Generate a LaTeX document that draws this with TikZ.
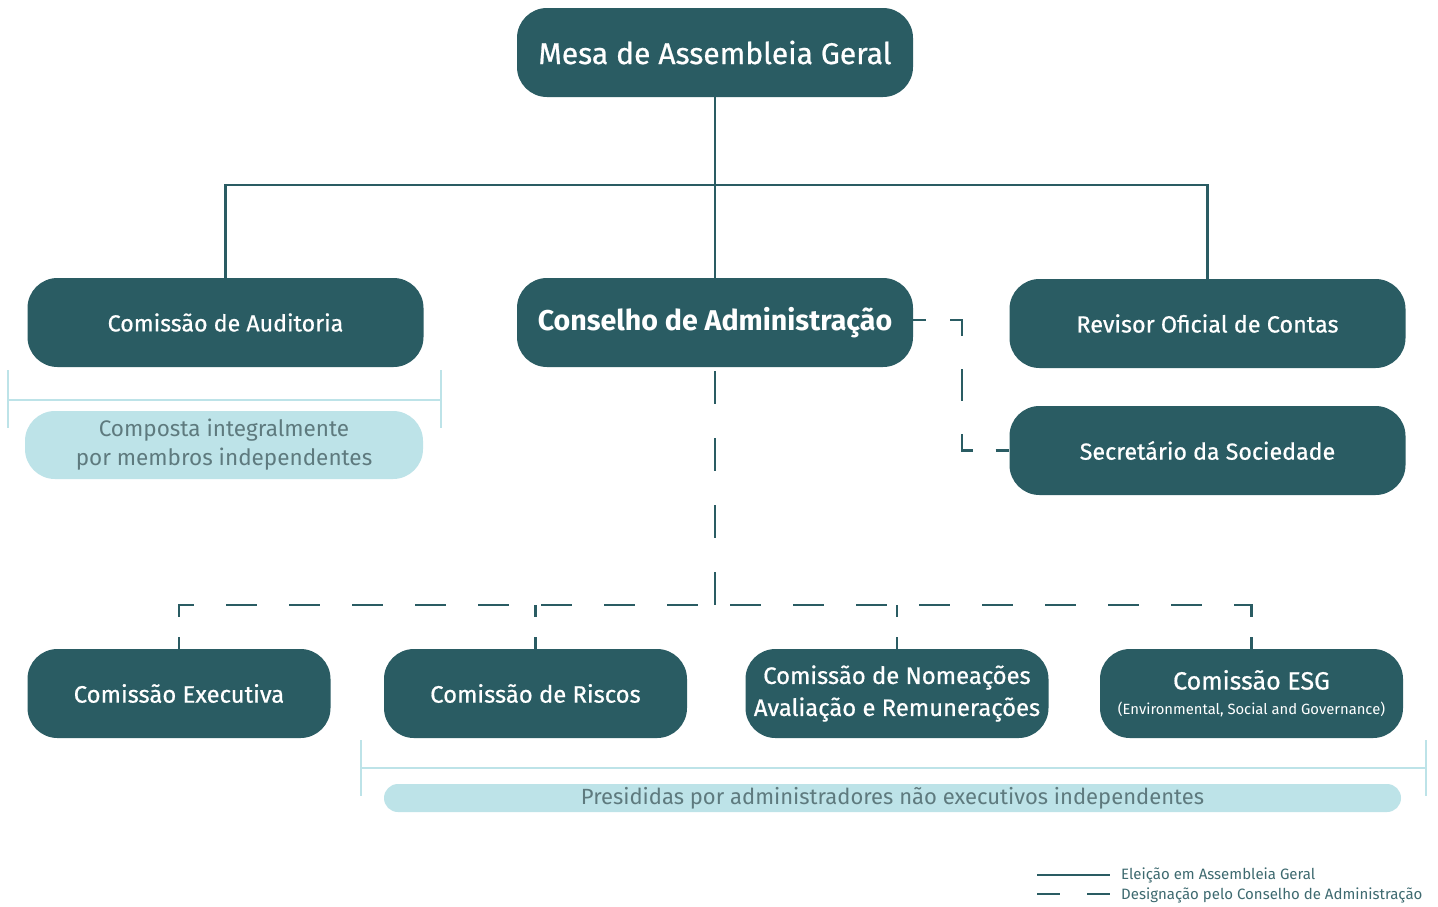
\documentclass[tikz,border=0pt]{standalone}
\usepackage{fontspec}
\setmainfont{Fira Sans}
\newfontfamily\medf{Fira Sans}[FakeBold=0.7]
\definecolor{teal1}{HTML}{2A5C63}
\definecolor{lightb}{HTML}{BDE3E8}
\definecolor{grayt}{HTML}{5E7A7E}
\definecolor{legt}{HTML}{3E6A70}
\begin{document}
\begin{tikzpicture}[x=1pt,y=-1pt,
  box/.style={fill=teal1, rounded corners=30pt, text=white, minimum height=89pt, inner sep=0pt, align=center},
  wbox/.style={box, minimum width=396pt},
  sbox/.style={box, minimum width=303pt},
  note/.style={fill=lightb, rounded corners=14pt, text=grayt, inner sep=0pt, align=center},
  conn/.style={draw=teal1, line width=2.6pt},
  dconn/.style={draw=teal1, line width=2.6pt},
  brk/.style={draw=lightb, line width=2.6pt},
  stub/.style={dconn, dash pattern=on 12pt off 20pt on 12pt off 0pt},
  legtext/.style={text=legt, anchor=west, inner sep=0pt, font=\fontsize{15}{17}\selectfont}
]
\useasboundingbox (0,0) rectangle (1438,906);
\fill[white] (0,0) rectangle (1438,906);

% nodes
\node[wbox, font=\medf\fontsize{30}{34}\selectfont] (mesa) at (715,52.5) {Mesa de Assembleia Geral};
\node[wbox, font=\medf\fontsize{23.2}{26}\selectfont] (aud) at (225.5,322.5) {Comissão de Auditoria};
\node[wbox, font=\bfseries\fontsize{28.6}{32}\selectfont] (cons) at (715,322.5) {Conselho de Administração};
\node[wbox, font=\medf\fontsize{23.4}{26}\selectfont] (rev) at (1207.5,323.5) {Revisor Oficial de Contas};
\node[wbox, font=\medf\fontsize{23.2}{26}\selectfont] (sec) at (1207.5,450.5) {Secretário da Sociedade};

\node[sbox, font=\medf\fontsize{23.8}{26}\selectfont] (exe) at (179,693.5) {Comissão Executiva};
\node[sbox, font=\medf\fontsize{23.8}{26}\selectfont] (ris) at (535.5,693.5) {Comissão de Riscos};
\node[sbox, font=\medf\fontsize{23.8}{32}\selectfont] (nom) at (897,693.5) {Comissão de Nomeações\\Avaliação e Remunerações};
\node[sbox, font=\medf\fontsize{25}{25}\selectfont] (esg) at (1251.5,693.5) {Comissão ESG\\{\normalfont\fontsize{14.8}{17}\selectfont (Environmental, Social and Governance)}};

% notes
\node[note, minimum width=398pt, minimum height=68pt, rounded corners=30pt, font=\fontsize{22.5}{29}\selectfont] (comp) at (224,445) {Composta integralmente\\por membros independentes};
\node[note, minimum width=1017pt, minimum height=28pt, font=\fontsize{22}{24}\selectfont] (pres) at (892.5,798) {Presididas por administradores não executivos independentes};

% brackets
\draw[brk] (8,370) -- (8,428) (441,370) -- (441,428) (8,400) -- (441,400);
\draw[brk] (361,740) -- (361,796) (1426,740) -- (1426,796) (361,768) -- (1426,768);

% solid connectors
\coordinate (hub) at (715,185);
\draw[conn] (mesa.south) -- (cons.north);
\draw[conn] (aud.north) |- (hub) -| (rev.north);

% dashed: Conselho -> Secretario
\coordinate (sj) at (962,450.5);
\draw[dconn, dash pattern=on 13pt off 24pt on 28pt off 33pt on 32pt off 33pt on 27pt off 23pt on 14pt off 10pt]
  ([yshift=2.5pt]cons.east) -| (sj) -- (sec.west);

% dashed: Conselho -> committees
\coordinate (bj) at (715,605);
\coordinate (tl) at (178,605);
\coordinate (tr) at (1253,605);
\draw[dconn, dash pattern=on 33pt off 34pt, dash phase=63pt] (cons.south) -- (bj);
\draw[dconn, dash pattern=on 31pt off 32pt, dash phase=15pt] (tl) -- (tr);
\draw[stub] (exe.north) -- (exe.north |- tl);
\draw[stub] (ris.north) -- (ris.north |- tl);
\draw[stub] (nom.north) -- (nom.north |- tl);
\draw[stub] (esg.north) -- (esg.north |- tl);

% legend
\coordinate (l1a) at (1037,875); \coordinate (l1b) at (1110,875);
\coordinate (l2a) at (1037,894); \coordinate (l2b) at (1110,894);
\draw[conn, line width=2.2pt] (l1a) -- (l1b);
\draw[conn, line width=2.2pt, dash pattern=on 23pt off 27pt] (l2a) -- (l2b);
\node[legtext] (lt1) at (1121,875) {Eleição em Assembleia Geral};
\node[legtext] (lt2) at (1121,895) {Designação pelo Conselho de Administração};
\end{tikzpicture}
\end{document}
